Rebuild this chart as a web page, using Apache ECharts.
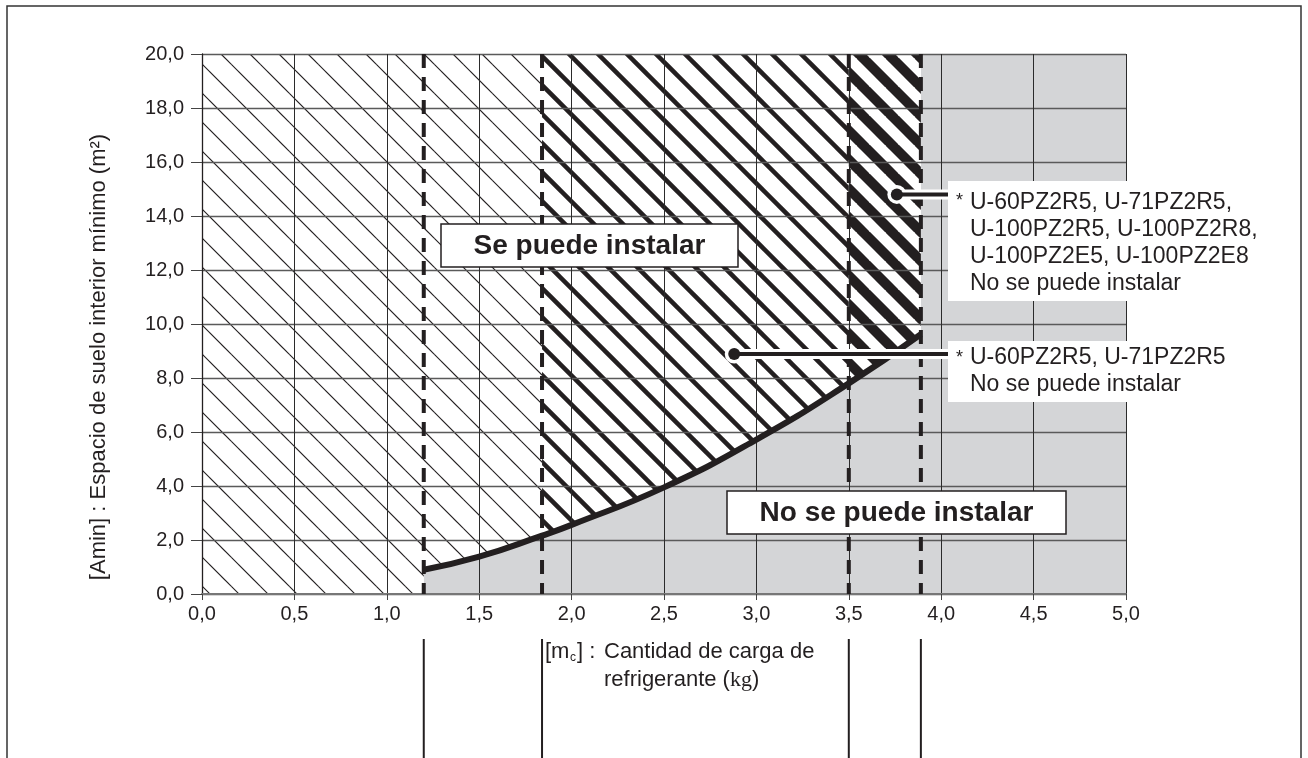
<!DOCTYPE html>
<html>
<head>
<meta charset="utf-8">
<title>Amin / mc</title>
<script src="https://cdn.jsdelivr.net/npm/echarts@6/dist/echarts.min.js"></script>
<style>
  html, body { margin: 0; padding: 0; background: #fff; }
  #chart { width: 1308px; height: 758px; }
</style>
</head>
<body>
<div id="chart"></div>
<script>
// Axis tick labels (decimal comma)
const xTickLabels = ['0,0', '0,5', '1,0', '1,5', '2,0', '2,5', '3,0', '3,5', '4,0', '4,5', '5,0'];
const yTickLabels = ['0,0', '2,0', '4,0', '6,0', '8,0', '10,0', '12,0', '14,0', '16,0', '18,0', '20,0'];

// Minimum floor area boundary: refrigerant charge mc (kg) -> Amin (m2)
const curveMc   = [1.2, 1.5, 1.84, 2.0, 2.5, 3.0, 3.5, 3.89];
const curveAmin = [0.9, 1.38, 2.16, 2.56, 3.95, 5.72, 7.8, 9.62];

// Charge limits drawn as dashed verticals (kg)
const chargeLimits = [1.2, 1.84, 3.5, 3.89];

// Callout anchor points (mc, Amin) and where the leader line ends (mc)
const calloutMc   = [3.76, 2.88];
const calloutAmin = [14.8, 8.89];
const leaderEndMc = 4.04;

// Texts
const zoneOkText = 'Se puede instalar';
const zoneNoText = 'No se puede instalar';
const calloutTexts = [
  ['U-60PZ2R5, U-71PZ2R5,', 'U-100PZ2R5, U-100PZ2R8,', 'U-100PZ2E5, U-100PZ2E8', 'No se puede instalar'],
  ['U-60PZ2R5, U-71PZ2R5', 'No se puede instalar']
];
const yAxisTitle = '[Amin] : Espacio de suelo interior m\u00ednimo (m\u00b2)';

const xMax = 5, yMax = 20;
const ink = '#231f20';
const grayFill = '#d4d5d7';
const fontFamily = '"Liberation Sans", Arial, Helvetica, sans-serif';

// Diagonal hatch tile ("\" direction), repeated across the canvas
function makeHatch(lineWidth) {
  const P = 29, off = 7;
  const c = document.createElement('canvas');
  c.width = P; c.height = P;
  const g = c.getContext('2d');
  g.fillStyle = '#fff';
  g.fillRect(0, 0, P, P);
  g.strokeStyle = ink;
  g.lineWidth = lineWidth;
  for (let k = -1; k <= 2; k++) {
    const x0 = k * P - off;
    g.beginPath();
    g.moveTo(x0 - 3, -3);
    g.lineTo(x0 + P + 3, P + 3);
    g.stroke();
  }
  return { image: c, repeat: 'repeat' };
}
const hatchThin = makeHatch(1.2);
const hatchMid = makeHatch(4.5);
const hatchBold = makeHatch(10);

function curveBetween(a, b) {
  const pts = [];
  curveMc.forEach((m, i) => {
    if (m >= a - 1e-9 && m <= b + 1e-9) pts.push([m, curveAmin[i]]);
  });
  return pts;
}

const [l1, l2, l3, l4] = chargeLimits;
const regionShapes = [
  { fill: grayFill, pts: [[l1, 0], ...curveBetween(l1, l4), [l4, yMax], [xMax, yMax], [xMax, 0]] },
  { fill: hatchThin, pts: [[0, 0], [0, yMax], [l2, yMax], ...curveBetween(l1, l2).reverse(), [l1, 0]] },
  { fill: hatchMid, pts: [[l2, yMax], [l3, yMax], ...curveBetween(l2, l3).reverse()] },
  { fill: hatchBold, pts: [[l3, yMax], [l4, yMax], ...curveBetween(l3, l4).reverse()] }
];

const chart = echarts.init(document.getElementById('chart'), null, { renderer: 'canvas' });

const option = {
  animation: false,
  backgroundColor: '#fff',
  grid: { left: 202, right: 182, top: 54, bottom: 164, show: false },
  xAxis: {
    type: 'value', min: 0, max: xMax, interval: 0.5, z: 3,
    axisLine: { show: true, onZero: false, lineStyle: { color: '#777', width: 2 } },
    axisTick: { show: true, length: 6, lineStyle: { color: '#444', width: 1 } },
    axisLabel: {
      margin: 10, fontSize: 20, color: ink, fontFamily: fontFamily,
      formatter: v => xTickLabels[Math.round(v / 0.5)]
    },
    splitLine: { show: true, lineStyle: { color: '#2b2b2b', width: 1 } }
  },
  yAxis: {
    type: 'value', min: 0, max: yMax, interval: 2, z: 3,
    axisLine: { show: true, onZero: false, lineStyle: { color: ink, width: 1.3 } },
    axisTick: { show: true, length: 11, lineStyle: { color: '#444', width: 1 } },
    axisLabel: {
      margin: 18, fontSize: 20, color: ink, fontFamily: fontFamily,
      formatter: v => yTickLabels[Math.round(v / 2)]
    },
    splitLine: { show: true, lineStyle: { color: '#5a5a5a', width: 1.3 } }
  },
  series: [
    {
      name: 'zonas', type: 'custom', z: 1, silent: true,
      data: regionShapes.map(() => [0, 0]),
      renderItem: (params, api) => {
        const r = regionShapes[params.dataIndex];
        return {
          type: 'polygon',
          shape: { points: r.pts.map(p => api.coord(p)) },
          style: { fill: r.fill, stroke: null }
        };
      }
    },
    {
      name: 'Amin', type: 'line', z: 5, silent: true,
      data: curveMc.map((m, i) => [m, curveAmin[i]]),
      smooth: 0.5,
      symbol: 'none',
      lineStyle: { color: ink, width: 6, cap: 'butt' }
    },
    {
      name: 'limites', type: 'custom', z: 5, silent: true,
      data: chargeLimits.map(x => [x, 0]),
      renderItem: (params, api) => {
        const x = api.value(0);
        const p0 = api.coord([x, yMax]);
        const p1 = api.coord([x, 0]);
        return {
          type: 'line',
          shape: { x1: p0[0], y1: p0[1], x2: p1[0], y2: p1[1] },
          style: { stroke: ink, lineWidth: 4, lineDash: [14, 9] }
        };
      }
    },
    {
      name: 'guias', type: 'custom', z: 5, silent: true, clip: false,
      data: chargeLimits.map(x => [x, 0]),
      renderItem: (params, api) => {
        const p = api.coord([api.value(0), 0]);
        return {
          type: 'line',
          shape: { x1: p[0], y1: p[1] + 45, x2: p[0], y2: p[1] + 180 },
          style: { stroke: ink, lineWidth: 2 }
        };
      }
    },
    {
      name: 'llamadas', type: 'custom', z: 6, silent: true, clip: false,
      data: calloutMc.map((m, i) => [m, calloutAmin[i]]),
      renderItem: (params, api) => {
        const p = api.coord([api.value(0), api.value(1)]);
        const e = api.coord([leaderEndMc, api.value(1)]);
        return {
          type: 'group',
          children: [
            { type: 'line', shape: { x1: p[0], y1: p[1], x2: e[0], y2: e[1] }, style: { stroke: '#fff', lineWidth: 10 } },
            { type: 'circle', shape: { cx: p[0], cy: p[1], r: 9.5 }, style: { fill: '#fff' } },
            { type: 'line', shape: { x1: p[0], y1: p[1], x2: e[0], y2: e[1] }, style: { stroke: ink, lineWidth: 4 } },
            { type: 'circle', shape: { cx: p[0], cy: p[1], r: 6 }, style: { fill: ink } }
          ]
        };
      }
    }
  ],
  graphic: [
    // outer frame
    { type: 'rect', z: 30, silent: true, shape: { x: 7, y: 6, width: 1294, height: 820 },
      style: { fill: null, stroke: '#333', lineWidth: 1.5 } },
    // y axis title
    { type: 'text', z: 30, x: 99, y: 357, rotation: Math.PI / 2,
      style: { text: yAxisTitle, fontSize: 22, fontFamily: fontFamily, fill: ink, align: 'center', verticalAlign: 'middle' } },
    // x axis title
    { type: 'text', z: 30, x: 545, y: 652,
      style: { text: '[m', fontSize: 22, fontFamily: fontFamily, fill: ink, align: 'left', verticalAlign: 'middle' } },
    { type: 'text', z: 30, x: 570, y: 658,
      style: { text: 'c', fontSize: 12, fontFamily: fontFamily, fill: ink, align: 'left', verticalAlign: 'middle' } },
    { type: 'text', z: 30, x: 577, y: 652,
      style: { text: '] :', fontSize: 22, fontFamily: fontFamily, fill: ink, align: 'left', verticalAlign: 'middle' } },
    { type: 'text', z: 30, x: 604, y: 652,
      style: { text: 'Cantidad de carga de', fontSize: 22, fontFamily: fontFamily, fill: ink, align: 'left', verticalAlign: 'middle' } },
    { type: 'text', z: 30, x: 604, y: 680,
      style: {
        text: '{a|refrigerante (}{k|kg}{a|)}', align: 'left', verticalAlign: 'middle',
        rich: {
          a: { fontSize: 22, fontFamily: fontFamily, fill: ink, color: ink },
          k: { fontSize: 22, fontFamily: '"Liberation Serif", "Times New Roman", serif', fill: ink, color: ink }
        }
      } },
    // zone labels
    { type: 'rect', z: 30, shape: { x: 441, y: 224, width: 297, height: 43 },
      style: { fill: '#fff', stroke: ink, lineWidth: 1.5 } },
    { type: 'text', z: 31, x: 589.5, y: 246,
      style: { text: zoneOkText, fontSize: 28, fontWeight: 'bold', fontFamily: fontFamily, fill: ink, align: 'center', verticalAlign: 'middle' } },
    { type: 'rect', z: 30, shape: { x: 727, y: 491, width: 339, height: 43 },
      style: { fill: '#fff', stroke: ink, lineWidth: 1.5 } },
    { type: 'text', z: 31, x: 896.5, y: 513,
      style: { text: zoneNoText, fontSize: 28, fontWeight: 'bold', fontFamily: fontFamily, fill: ink, align: 'center', verticalAlign: 'middle' } },
    // callout boxes
    { type: 'rect', z: 30, shape: { x: 948, y: 181, width: 340, height: 120 }, style: { fill: '#fff' } },
    { type: 'text', z: 31, x: 956, y: 201,
      style: { text: '*', fontSize: 18, fontFamily: fontFamily, fill: ink, align: 'left', verticalAlign: 'middle' } },
    { type: 'text', z: 31, x: 970, y: 189.5,
      style: { text: calloutTexts[0].join('\n'), fontSize: 23, lineHeight: 27, fontFamily: fontFamily, fill: ink, align: 'left', verticalAlign: 'top' } },
    { type: 'rect', z: 30, shape: { x: 948, y: 341, width: 340, height: 61 }, style: { fill: '#fff' } },
    { type: 'text', z: 31, x: 956, y: 358,
      style: { text: '*', fontSize: 18, fontFamily: fontFamily, fill: ink, align: 'left', verticalAlign: 'middle' } },
    { type: 'text', z: 31, x: 970, y: 344.5,
      style: { text: calloutTexts[1].join('\n'), fontSize: 23, lineHeight: 27, fontFamily: fontFamily, fill: ink, align: 'left', verticalAlign: 'top' } }
  ]
};

chart.setOption(option);
</script>
</body>
</html>
